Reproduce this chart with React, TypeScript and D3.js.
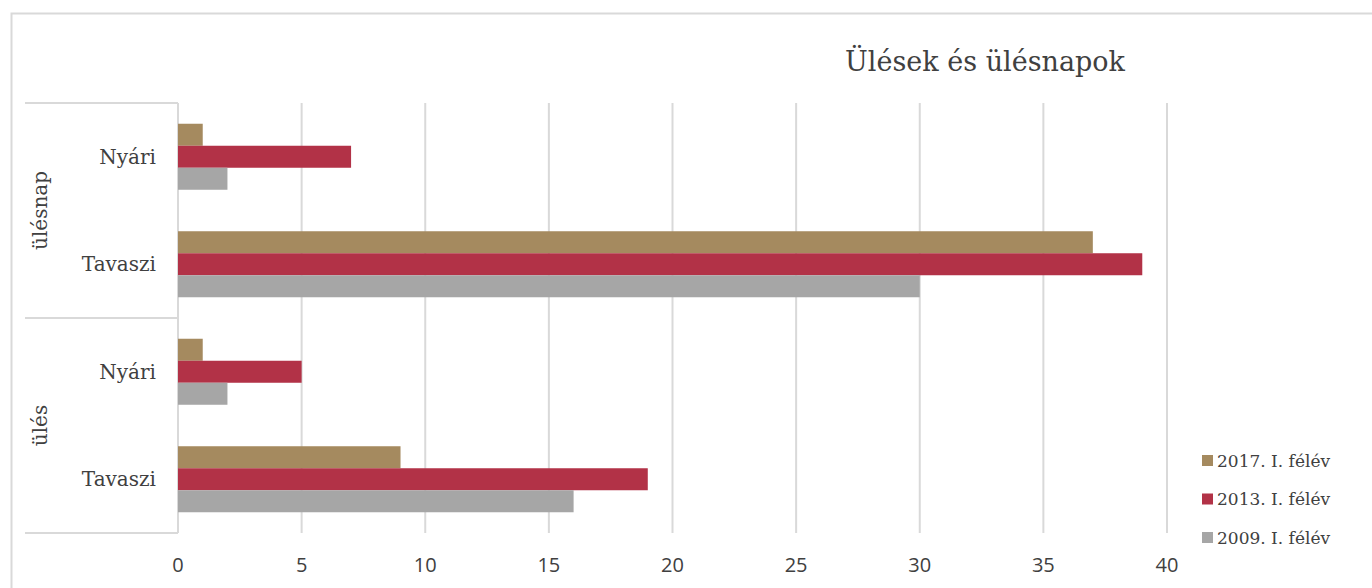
import React, { useEffect, useRef } from 'react';
import * as d3 from 'd3';

// category rows, top to bottom
const groups = ['ülésnap', 'ülés'];
const seasons = ['Nyári', 'Tavaszi'];
const seriesNames = ['2017. I. félév', '2013. I. félév', '2009. I. félév'];
const seriesColors = ['#A58A5F', '#B23247', '#A6A6A6'];

// values per row: ülésnap Nyári, ülésnap Tavaszi, ülés Nyári, ülés Tavaszi
const values2017 = [1, 37, 1, 9];
const values2013 = [7, 39, 5, 19];
const values2009 = [2, 30, 2, 16];

const xTicks = [0, 5, 10, 15, 20, 25, 30, 35, 40];

const W = 1372;
const H = 588;

export default function App() {
  const svgRef = useRef<SVGSVGElement>(null);

  useEffect(() => {
    if (!svgRef.current) return;
    const svg = d3.select(svgRef.current);
    svg.selectAll('*').remove();

    const serif = "'DejaVu Serif', Georgia, serif";
    const sans = "'Open Sans', 'Noto Sans', sans-serif";
    const textColor = '#404040';
    const gridColor = '#D9D9D9';

    const rows = groups.flatMap(g => seasons.map(s => `${g}|${s}`));
    const series = [values2017, values2013, values2009];

    const x = d3.scaleLinear().domain([0, 40]).range([178, 1167]);
    const y = d3.scaleBand<string>().domain(rows).range([103, 533])
      .paddingInner(0.386).paddingOuter(0.193);
    const ySub = d3.scaleBand<number>().domain([0, 1, 2]).range([0, y.bandwidth()]);

    // outer frame (only top and left visible in reference)
    svg.append('path')
      .attr('d', `M11.5,${H + 5} V13.5 H${W + 5}`)
      .attr('fill', 'none')
      .attr('stroke', gridColor)
      .attr('stroke-width', 2);

    // title
    svg.append('text')
      .attr('x', 985)
      .attr('y', 71)
      .attr('text-anchor', 'middle')
      .style('font-family', serif)
      .style('font-size', '27px')
      .style('fill', textColor)
      .text('Ülések és ülésnapok');

    // gridlines
    svg.append('g')
      .selectAll('line')
      .data(xTicks)
      .enter()
      .append('line')
      .attr('x1', d => x(d))
      .attr('x2', d => x(d))
      .attr('y1', 103)
      .attr('y2', 533)
      .attr('stroke', gridColor)
      .attr('stroke-width', 2);

    // x tick labels
    svg.append('g')
      .selectAll('text')
      .data(xTicks)
      .enter()
      .append('text')
      .attr('x', d => x(d))
      .attr('y', 572)
      .attr('text-anchor', 'middle')
      .style('font-family', sans)
      .style('font-size', '20px')
      .style('fill', textColor)
      .text(d => d);

    // group separators on the left
    const seps = [103, (y(rows[1])! + y.bandwidth() + y(rows[2])!) / 2, 533];
    svg.append('g')
      .selectAll('line')
      .data(seps)
      .enter()
      .append('line')
      .attr('x1', 25)
      .attr('x2', 178)
      .attr('y1', d => d)
      .attr('y2', d => d)
      .attr('stroke', gridColor)
      .attr('stroke-width', 2);

    // bars
    series.forEach((vals, si) => {
      svg.append('g')
        .selectAll('rect')
        .data(vals)
        .enter()
        .append('rect')
        .attr('x', x(0))
        .attr('y', (_d, i) => y(rows[i])! + ySub(si)!)
        .attr('width', d => x(d) - x(0))
        .attr('height', ySub.bandwidth())
        .attr('fill', seriesColors[si]);
    });

    // category labels
    svg.append('g')
      .selectAll('text')
      .data(rows)
      .enter()
      .append('text')
      .attr('x', 156)
      .attr('y', d => y(d)! + y.bandwidth() / 2)
      .attr('dy', '0.35em')
      .attr('text-anchor', 'end')
      .style('font-family', serif)
      .style('font-size', '20px')
      .style('fill', textColor)
      .text(d => d.split('|')[1]);

    // group labels (rotated)
    groups.forEach((g, gi) => {
      const cy = (seps[gi] + seps[gi + 1]) / 2;
      svg.append('text')
        .attr('transform', `translate(47,${cy}) rotate(-90)`)
        .attr('text-anchor', 'middle')
        .style('font-family', serif)
        .style('font-size', '20px')
        .style('fill', textColor)
        .text(g);
    });

    // legend
    const legend = svg.append('g').attr('transform', 'translate(1202,461)');
    seriesNames.forEach((name, i) => {
      const item = legend.append('g').attr('transform', `translate(0,${i * 38.5})`);
      item.append('rect')
        .attr('x', 0)
        .attr('y', -6)
        .attr('width', 11)
        .attr('height', 11)
        .attr('fill', seriesColors[i]);
      item.append('text')
        .attr('x', 15)
        .attr('y', 0)
        .attr('dy', '0.35em')
        .style('font-family', serif)
        .style('font-size', '17px')
        .style('fill', textColor)
        .text(name);
    });
  }, []);

  return (
    <div>
      <style>{`body { margin: 0; }`}</style>
      <svg ref={svgRef} width={W} height={H} style={{ display: 'block', background: '#fff' }} />
    </div>
  );
}
